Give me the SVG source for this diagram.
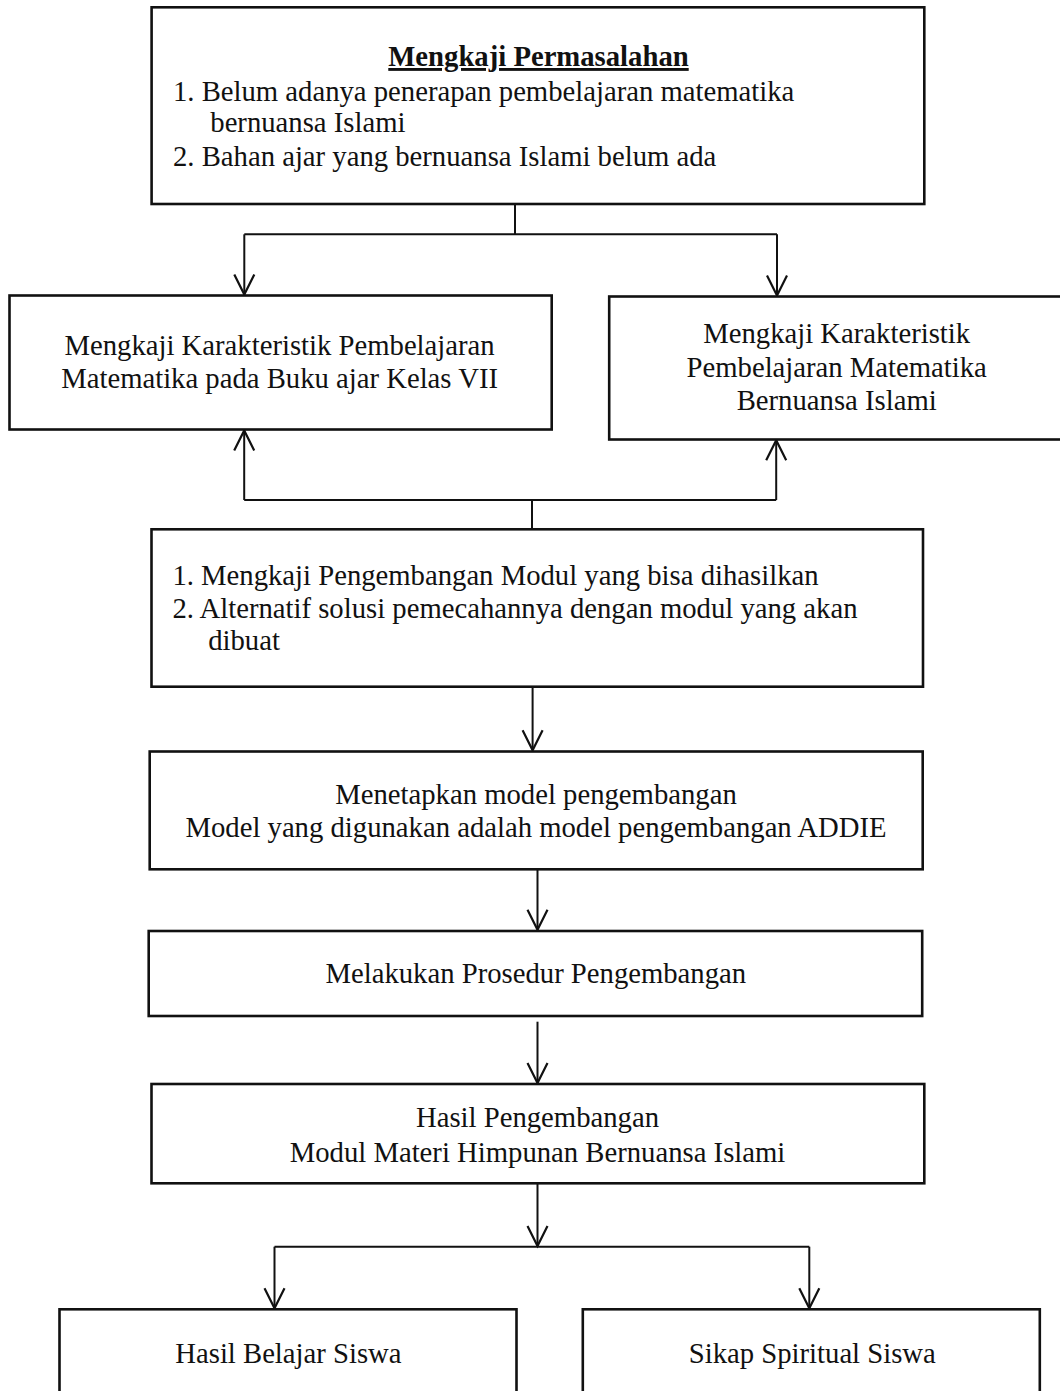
<svg xmlns="http://www.w3.org/2000/svg" width="1060" height="1391" viewBox="0 0 1060 1391">
<style>
.box{fill:#fff;stroke:#111;stroke-width:2.6}
.t{font-family:"Liberation Serif","Times New Roman",serif;font-size:28.7px;fill:#111}
.c{text-anchor:middle}
.ln{fill:none;stroke:#111;stroke-width:2}
</style>
<defs>
<marker id="v" viewBox="-2 -2 26 26" refX="20" refY="10" markerWidth="26" markerHeight="26" markerUnits="userSpaceOnUse" orient="auto">
<path d="M0,0 L20,10 L0,20" fill="none" stroke="#111" stroke-width="2.2"/>
</marker>
</defs>
<rect width="1060" height="1391" fill="#fff"/>
<g id="connectors">
<path class="ln" d="M515,205 V234.3 M244.3,234.3 H777"/>
<path class="ln" d="M244.3,234.3 V294.5" marker-end="url(#v)"/>
<path class="ln" d="M777,234.3 V295.5" marker-end="url(#v)"/>
<path class="ln" d="M532,529 V500 M244.2,500 H776.2"/>
<path class="ln" d="M244.2,500 V430.5" marker-end="url(#v)"/>
<path class="ln" d="M776.2,500 V440.2" marker-end="url(#v)"/>
<path class="ln" d="M532.6,687 V750.3" marker-end="url(#v)"/>
<path class="ln" d="M537.5,869 V929.8" marker-end="url(#v)"/>
<path class="ln" d="M537.5,1021.7 V1083" marker-end="url(#v)"/>
<path class="ln" d="M537.5,1183.5 V1246" marker-end="url(#v)"/>
<path class="ln" d="M274.5,1246.7 H809.3"/>
<path class="ln" d="M274.5,1246.7 V1308.2" marker-end="url(#v)"/>
<path class="ln" d="M809.3,1246.7 V1308.2" marker-end="url(#v)"/>
</g>
<g id="n1">
<rect class="box" x="151.6" y="7.3" width="772.7" height="196.7"/>
<text class="t c" x="538.5" y="66" font-weight="bold" text-decoration="underline">Mengkaji Permasalahan</text>
<text class="t" x="173" y="100.7">1. Belum adanya penerapan pembelajaran matematika</text>
<text class="t" x="210.3" y="132.3">bernuansa Islami</text>
<text class="t" x="173" y="165.7">2. Bahan ajar yang bernuansa Islami belum ada</text>
</g>
<g id="n2">
<rect class="box" x="9.5" y="295.5" width="542.2" height="134"/>
<text class="t c" x="279.6" y="355">Mengkaji Karakteristik Pembelajaran</text>
<text class="t c" x="279.6" y="388.3">Matematika pada Buku ajar Kelas VII</text>
</g>
<g id="n3">
<rect class="box" x="609.2" y="296.5" width="460" height="143"/>
<text class="t c" x="836.7" y="343.3">Mengkaji Karakteristik</text>
<text class="t c" x="836.7" y="376.7">Pembelajaran Matematika</text>
<text class="t c" x="836.7" y="410">Bernuansa Islami</text>
</g>
<g id="n4">
<rect class="box" x="151.5" y="529.3" width="771.5" height="157.4"/>
<text class="t" x="172.4" y="585">1. Mengkaji Pengembangan Modul yang bisa dihasilkan</text>
<text class="t" x="172.4" y="618.3">2. Alternatif solusi pemecahannya dengan modul yang akan</text>
<text class="t" x="208.2" y="650">dibuat</text>
</g>
<g id="n5">
<rect class="box" x="149.7" y="751.5" width="773" height="117.8"/>
<text class="t c" x="536" y="804">Menetapkan model pengembangan</text>
<text class="t c" x="536" y="836.7">Model yang digunakan adalah model pengembangan ADDIE</text>
</g>
<g id="n6">
<rect class="box" x="148.7" y="931" width="773.5" height="85"/>
<text class="t c" x="535.8" y="983.3">Melakukan Prosedur Pengembangan</text>
</g>
<g id="n7">
<rect class="box" x="151.5" y="1084" width="772.8" height="99.3"/>
<text class="t c" x="537.5" y="1126.7">Hasil Pengembangan</text>
<text class="t c" x="537.5" y="1161.7">Modul Materi Himpunan Bernuansa Islami</text>
</g>
<g id="n8">
<rect class="box" x="59.5" y="1309.3" width="457" height="100"/>
<text class="t c" x="288.4" y="1363.3">Hasil Belajar Siswa</text>
</g>
<g id="n9">
<rect class="box" x="582.8" y="1309.3" width="457" height="100"/>
<text class="t c" x="812.3" y="1363.3">Sikap Spiritual Siswa</text>
</g>
</svg>
